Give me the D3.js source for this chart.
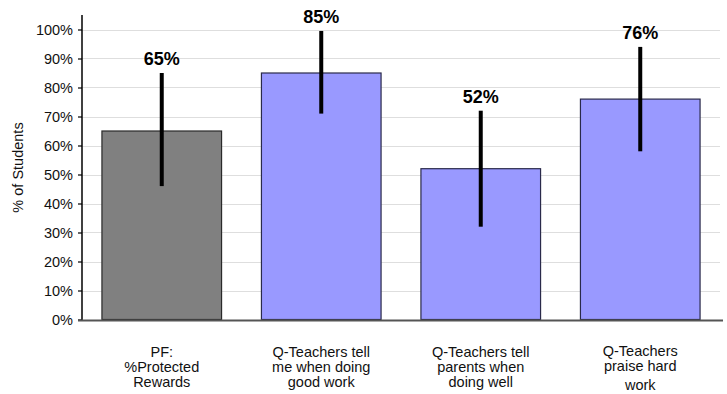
<!DOCTYPE html>
<html>
<head>
<meta charset="utf-8">
<script src="https://cdn.jsdelivr.net/npm/d3@7"></script>
<style>
  html, body { margin: 0; padding: 0; background: #fff; }
  svg { display: block; font-family: "Liberation Sans", Arial, sans-serif; }
</style>
</head>
<body>
<svg id="chart" width="727" height="394"></svg>
<script>
const categories = [
  ["PF:", "%Protected", "Rewards"],
  ["Q-Teachers tell", "me when doing", "good work"],
  ["Q-Teachers tell", "parents when", "doing well"],
  ["Q-Teachers", "praise hard", "work"]
];
const values = [65, 85, 52, 76];
const errLow = [46, 71, 32, 58];
const errHigh = [85, 99.5, 72, 94];
const valueLabels = ["65%", "85%", "52%", "76%"];
const barColors = ["#808080", "#9999ff", "#9999ff", "#9999ff"];
const yTicks = [0, 10, 20, 30, 40, 50, 60, 70, 80, 90, 100];

const svg = d3.select("#chart");
const mLeft = 82, mRight = 720, mTop = 15, mBottom = 320;

const x = d3.scaleBand().domain(d3.range(values.length)).range([mLeft, mRight])
  .paddingInner(0.25).paddingOuter(0.125);
const y = d3.scaleLinear().domain([0, 100]).range([319.5, 29.5]);

// gridlines
svg.append("g").selectAll("line").data(yTicks.filter(d => d > 0)).join("line")
  .attr("x1", mLeft).attr("x2", mRight)
  .attr("y1", d => Math.round(y(d)) + 0.5).attr("y2", d => Math.round(y(d)) + 0.5)
  .attr("stroke", "#dedede").attr("stroke-width", 1);

// bars
svg.append("g").selectAll("rect").data(values).join("rect")
  .attr("x", (d, i) => x(i)).attr("width", x.bandwidth())
  .attr("y", d => y(d)).attr("height", d => y(0) - y(d))
  .attr("fill", (d, i) => barColors[i])
  .attr("stroke", (d, i) => i === 0 ? "#2a2a2a" : "#2a2a4a").attr("stroke-width", 1.2);

// error bars
svg.append("g").selectAll("line").data(values).join("line")
  .attr("x1", (d, i) => x(i) + x.bandwidth() / 2).attr("x2", (d, i) => x(i) + x.bandwidth() / 2)
  .attr("y1", (d, i) => y(errHigh[i])).attr("y2", (d, i) => y(errLow[i]))
  .attr("stroke", "#000").attr("stroke-width", 4);

// value labels
svg.append("g").selectAll("text").data(values).join("text")
  .attr("x", (d, i) => x(i) + x.bandwidth() / 2)
  .attr("y", (d, i) => y(errHigh[i]) - 8)
  .attr("text-anchor", "middle").attr("font-weight", "bold").attr("font-size", 18)
  .attr("fill", "#000")
  .text((d, i) => valueLabels[i]);

// y axis
const yAxis = d3.axisLeft(y).tickValues(yTicks).tickFormat(d => d + "%").tickSize(4).tickPadding(5);
const yg = svg.append("g").attr("transform", `translate(${mLeft},0)`).call(yAxis);
yg.select(".domain").remove();
yg.selectAll(".tick line").attr("stroke", "#000").attr("stroke-width", 1.2);
yg.selectAll(".tick text").attr("font-size", 14.5).attr("fill", "#111")
  .attr("font-family", "'Liberation Sans', Arial, sans-serif");
svg.append("line").attr("x1", mLeft).attr("x2", mLeft).attr("y1", mTop).attr("y2", mBottom)
  .attr("stroke", "#000").attr("stroke-width", 1.5);

// x axis baseline
svg.append("line").attr("x1", mLeft - 4).attr("x2", mRight + 3).attr("y1", 320.5).attr("y2", 320.5)
  .attr("stroke", "#555").attr("stroke-width", 2);

// x category labels
const lineY = [[357, 372, 387], [357, 372, 387], [357, 372, 387], [356, 370.5, 390]];
const xl = svg.append("g");
categories.forEach((lines, i) => {
  const t = xl.append("text").attr("text-anchor", "middle").attr("font-size", 14.5).attr("fill", "#111");
  lines.forEach((ln, j) => {
    t.append("tspan").attr("x", x(i) + x.bandwidth() / 2).attr("y", lineY[i][j]).text(ln);
  });
});

// y title
svg.append("text")
  .attr("transform", `translate(23,${(mTop + mBottom) / 2}) rotate(-90)`)
  .attr("text-anchor", "middle").attr("font-size", 14.5).attr("fill", "#111")
  .text("% of Students");
</script>
</body>
</html>
